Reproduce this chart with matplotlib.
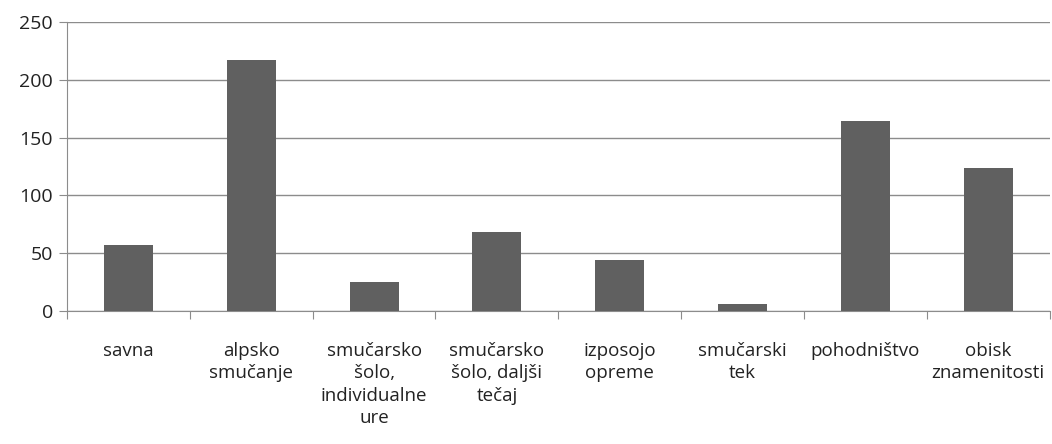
import matplotlib
matplotlib.use("Agg")
import matplotlib.pyplot as plt
from matplotlib import font_manager

# categories and values
categories = ["savna", "alpsko\nsmučanje", "smučarsko\nšolo,\nindividualne\nure",
              "smučarsko\nšolo, daljši\ntečaj", "izposojo\nopreme", "smučarski\ntek",
              "pohodništvo", "obisk\nznamenitosti"]
values = [57, 217, 25, 68, 44, 6, 164, 124]
yticks = [0, 50, 100, 150, 200, 250]

names = {f.name for f in font_manager.fontManager.ttflist}
fam = [f for f in ["Liberation Sans Narrow", "Open Sans", "DejaVu Sans"] if f in names]
plt.rcParams['font.family'] = fam

fig = plt.figure(figsize=(10.52, 4.44), dpi=100)
ax = fig.add_axes([0.0637, 0.2995, 0.934, 0.651])

x = range(len(categories))
ax.bar(x, values, width=0.4, color="#606060", zorder=3)

ax.set_xlim(-0.5, len(categories) - 0.5)
ax.set_ylim(0, 250)
ax.set_yticks(yticks)
ax.yaxis.grid(True, color="#8c8c8c", linewidth=1, zorder=0)

ax.set_xticks([i + 0.5 for i in range(-1, len(categories))], minor=False)
ax.set_xticklabels([])
ax.set_xticks(list(x), minor=True)
ax.set_xticklabels(categories, minor=True, fontsize=13.5, linespacing=1.32,
                   va="top", color="#222222")
ax.tick_params(axis="x", which="minor", length=0, pad=22)
ax.tick_params(axis="x", which="major", length=6, color="#8c8c8c")
ax.tick_params(axis="y", length=6, color="#8c8c8c", labelsize=14, pad=4,
               labelcolor="#222222")

for side in ["top", "right"]:
    ax.spines[side].set_visible(False)
for side in ["left", "bottom"]:
    ax.spines[side].set_color("#8c8c8c")

fig.savefig("out.png", dpi=100)
